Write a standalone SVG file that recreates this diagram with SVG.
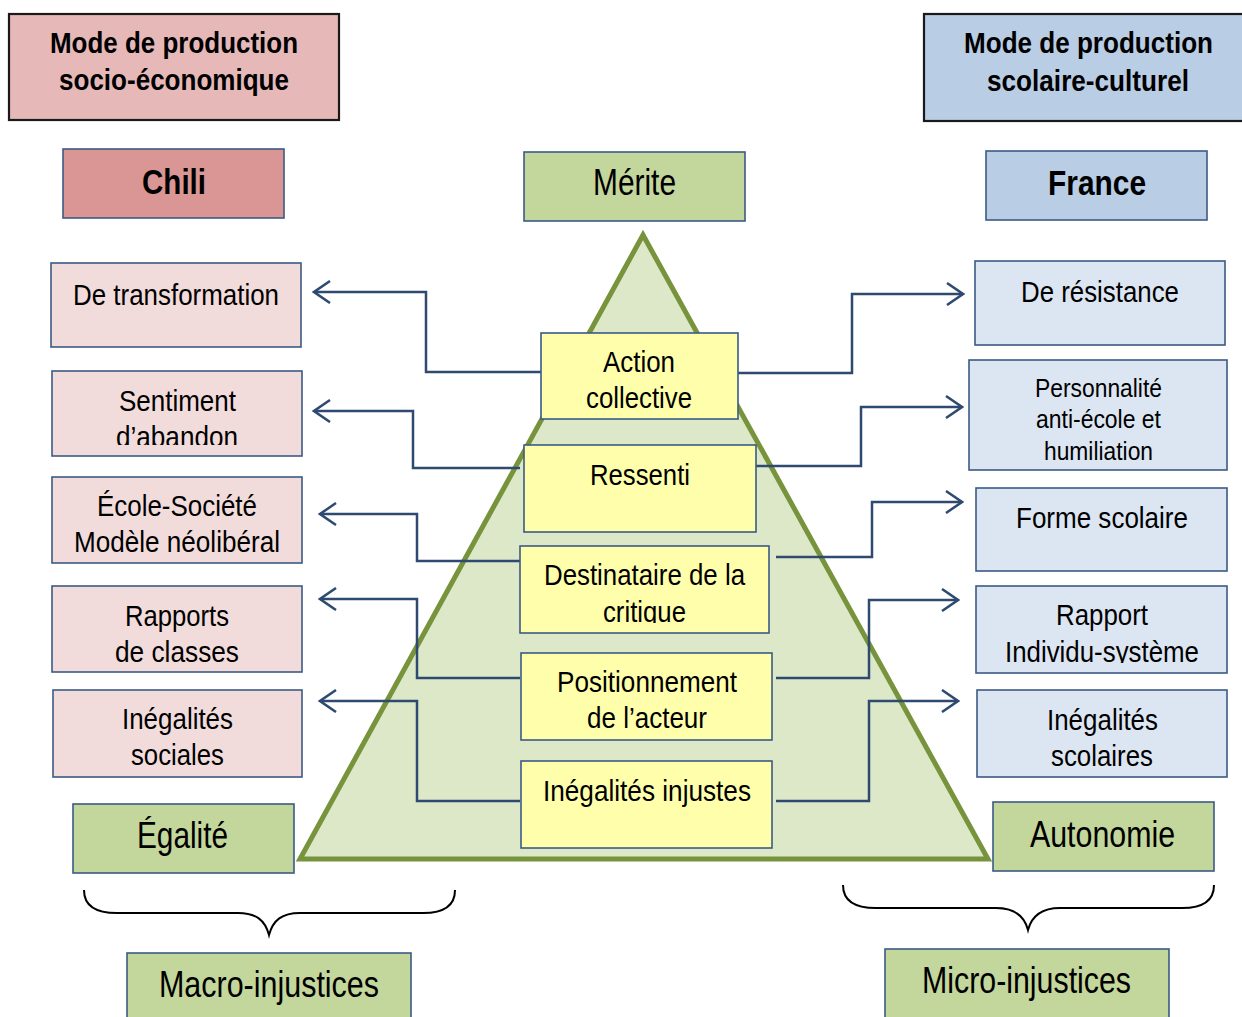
<svg xmlns="http://www.w3.org/2000/svg" width="1242" height="1017" viewBox="0 0 1242 1017">
<style>
rect{stroke:#3b5a85;stroke-width:1.6}
.hl{fill:#e6b9b8;stroke:#1a1a1a;stroke-width:2.2}
.hr{fill:#b9cde5;stroke:#1a1a1a;stroke-width:2.2}
.chili{fill:#d99694}
.fr{fill:#b9cde5}
.g{fill:#c3d69b}
.p{fill:#f2dcdb}
.b{fill:#dce6f2}
.y{fill:#ffffab}
text{font-family:"Liberation Sans",Arial,sans-serif;font-size:30px;fill:#000}
.bold{font-weight:bold;font-size:29px}
.big{font-weight:bold;font-size:35px}
.l{font-size:36px}
.s{font-size:26px}
.c{fill:none;stroke:#2e4a70;stroke-width:2.5;marker-end:url(#arr)}
.brace{fill:none;stroke:#000;stroke-width:2}
</style>
<defs>
<marker id="arr" viewBox="0 0 20 24" refX="18" refY="12" markerWidth="20" markerHeight="24" markerUnits="userSpaceOnUse" orient="auto">
<path d="M2,1 L18,12 L2,23" fill="none" stroke="#2e4a70" stroke-width="2.5"/>
</marker>
<clipPath id="clipA"><rect x="0" y="0" width="1242" height="445"/></clipPath>
<clipPath id="clipB"><rect x="0" y="0" width="1242" height="623"/></clipPath>
<clipPath id="clipC"><rect x="0" y="0" width="1242" height="663"/></clipPath>
</defs>

<g id="pyramid">
<polygon points="643,235 300,859 988,859" fill="#dde8c9" stroke="#77933c" stroke-width="5" stroke-linejoin="miter"/>
</g>

<g id="connectors">
<path class="c" d="M541,372 H426 V292 H314"/>
<path class="c" d="M520,468 H413 V411 H314"/>
<path class="c" d="M520,561 H417 V514 H320"/>
<path class="c" d="M520,678 H417 V599 H320"/>
<path class="c" d="M520,801 H417 V701 H320"/>
<path class="c" d="M738,373 H852 V294 H963"/>
<path class="c" d="M756,466 H861 V407 H962"/>
<path class="c" d="M776,557 H872 V502 H962"/>
<path class="c" d="M776,678 H869 V600 H958"/>
<path class="c" d="M776,801 H869 V701 H958"/>
</g>

<g id="hdr-left">
<rect class="hl" x="9" y="14" width="330" height="106"/>
<text class="bold" x="50" y="53" textLength="248" lengthAdjust="spacingAndGlyphs">Mode de production</text>
<text class="bold" x="59" y="90" textLength="230" lengthAdjust="spacingAndGlyphs">socio-économique</text>
</g>
<g id="hdr-right">
<rect class="hr" x="924" y="14" width="330" height="107"/>
<text class="bold" x="964" y="53" textLength="249" lengthAdjust="spacingAndGlyphs">Mode de production</text>
<text class="bold" x="987" y="91" textLength="202" lengthAdjust="spacingAndGlyphs">scolaire-culturel</text>
</g>

<g id="chili">
<rect class="chili" x="63" y="149" width="221" height="69"/>
<text class="big" x="142" y="194" textLength="64" lengthAdjust="spacingAndGlyphs">Chili</text>
</g>
<g id="merite">
<rect class="g" x="524" y="152" width="221" height="69"/>
<text class="l" x="593" y="195" textLength="83" lengthAdjust="spacingAndGlyphs">Mérite</text>
</g>
<g id="france">
<rect class="fr" x="986" y="151" width="221" height="69"/>
<text class="big" x="1048" y="195" textLength="98" lengthAdjust="spacingAndGlyphs">France</text>
</g>

<g id="action-collective">
<rect class="y" x="541" y="333" width="197" height="86"/>
<text x="603" y="372" textLength="72" lengthAdjust="spacingAndGlyphs">Action</text>
<text x="586" y="408" textLength="106" lengthAdjust="spacingAndGlyphs">collective</text>
</g>
<g id="ressenti">
<rect class="y" x="524" y="445" width="232" height="87"/>
<text x="590" y="485" textLength="100" lengthAdjust="spacingAndGlyphs">Ressenti</text>
</g>
<g id="destinataire">
<rect class="y" x="520" y="546" width="249" height="87"/>
<text x="544" y="585" textLength="201" lengthAdjust="spacingAndGlyphs">Destinataire de la</text>
<text x="603" y="622" textLength="83" lengthAdjust="spacingAndGlyphs" clip-path="url(#clipB)">critique</text>
</g>
<g id="positionnement">
<rect class="y" x="521" y="653" width="251" height="87"/>
<text x="557" y="692" textLength="180" lengthAdjust="spacingAndGlyphs">Positionnement</text>
<text x="587" y="728" textLength="120" lengthAdjust="spacingAndGlyphs">de l’acteur</text>
</g>
<g id="inegalites-injustes">
<rect class="y" x="521" y="761" width="251" height="87"/>
<text x="543" y="801" textLength="208" lengthAdjust="spacingAndGlyphs">Inégalités injustes</text>
</g>

<g id="de-transformation">
<rect class="p" x="51" y="263" width="250" height="84"/>
<text x="73" y="305" textLength="206" lengthAdjust="spacingAndGlyphs">De transformation</text>
</g>
<g id="sentiment-abandon">
<rect class="p" x="52" y="371" width="250" height="85"/>
<text x="119" y="411" textLength="117" lengthAdjust="spacingAndGlyphs">Sentiment</text>
<text x="116" y="447" textLength="122" lengthAdjust="spacingAndGlyphs" clip-path="url(#clipA)">d’abandon</text>
</g>
<g id="ecole-societe">
<rect class="p" x="52" y="477" width="250" height="86"/>
<text x="97" y="516" textLength="160" lengthAdjust="spacingAndGlyphs">École-Société</text>
<text x="74" y="552" textLength="206" lengthAdjust="spacingAndGlyphs">Modèle néolibéral</text>
</g>
<g id="rapports-classes">
<rect class="p" x="52" y="586" width="250" height="86"/>
<text x="125" y="626" textLength="104" lengthAdjust="spacingAndGlyphs">Rapports</text>
<text x="115" y="662" textLength="124" lengthAdjust="spacingAndGlyphs">de classes</text>
</g>
<g id="inegalites-sociales">
<rect class="p" x="53" y="690" width="249" height="87"/>
<text x="122" y="729" textLength="111" lengthAdjust="spacingAndGlyphs">Inégalités</text>
<text x="131" y="765" textLength="93" lengthAdjust="spacingAndGlyphs">sociales</text>
</g>

<g id="de-resistance">
<rect class="b" x="975" y="261" width="250" height="84"/>
<text x="1021" y="302" textLength="158" lengthAdjust="spacingAndGlyphs">De résistance</text>
</g>
<g id="personnalite">
<rect class="b" x="969" y="360" width="258" height="110"/>
<text class="s" x="1035" y="397" textLength="127" lengthAdjust="spacingAndGlyphs">Personnalité</text>
<text class="s" x="1036" y="428" textLength="125" lengthAdjust="spacingAndGlyphs">anti-école et</text>
<text class="s" x="1044" y="460" textLength="109" lengthAdjust="spacingAndGlyphs">humiliation</text>
</g>
<g id="forme-scolaire">
<rect class="b" x="976" y="488" width="251" height="83"/>
<text x="1016" y="528" textLength="172" lengthAdjust="spacingAndGlyphs">Forme scolaire</text>
</g>
<g id="rapport-individu">
<rect class="b" x="976" y="586" width="251" height="87"/>
<text x="1056" y="625" textLength="92" lengthAdjust="spacingAndGlyphs">Rapport</text>
<text x="1005" y="662" textLength="194" lengthAdjust="spacingAndGlyphs" clip-path="url(#clipC)">Individu-système</text>
</g>
<g id="inegalites-scolaires">
<rect class="b" x="977" y="690" width="250" height="87"/>
<text x="1047" y="730" textLength="111" lengthAdjust="spacingAndGlyphs">Inégalités</text>
<text x="1051" y="766" textLength="102" lengthAdjust="spacingAndGlyphs">scolaires</text>
</g>

<g id="egalite">
<rect class="g" x="73" y="804" width="221" height="69"/>
<text class="l" x="137" y="848" textLength="91" lengthAdjust="spacingAndGlyphs">Égalité</text>
</g>
<g id="autonomie">
<rect class="g" x="993" y="802" width="221" height="69"/>
<text class="l" x="1030" y="847" textLength="145" lengthAdjust="spacingAndGlyphs">Autonomie</text>
</g>

<g id="braces">
<path class="brace" d="M84,890 C84,905 95,913 117,913 L238,913 C256,913 265,920 269,935 C273,920 282,913 300,913 L423,913 C445,913 455,905 455,890"/>
<path class="brace" d="M843,885 C843,900 854,908 876,908 L996,908 C1014,908 1024,915 1028,930 C1032,915 1042,908 1060,908 L1182,908 C1204,908 1214,900 1214,885"/>
</g>

<g id="macro-injustices">
<rect class="g" x="127" y="953" width="284" height="80"/>
<text class="l" x="159" y="997" textLength="220" lengthAdjust="spacingAndGlyphs">Macro-injustices</text>
</g>
<g id="micro-injustices">
<rect class="g" x="885" y="949" width="284" height="80"/>
<text class="l" x="922" y="993" textLength="209" lengthAdjust="spacingAndGlyphs">Micro-injustices</text>
</g>
</svg>
